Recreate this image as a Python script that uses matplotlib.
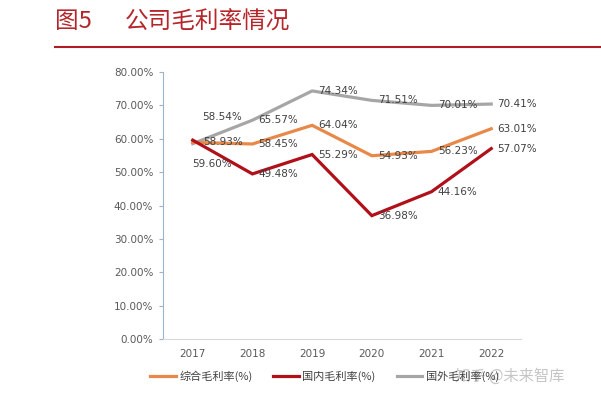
import matplotlib
matplotlib.use('Agg')
from matplotlib import pyplot as plt
from matplotlib.lines import Line2D

plt.rcParams['font.family'] = ['Noto Sans CJK SC', 'DejaVu Sans']

# data
years = ['2017', '2018', '2019', '2020', '2021', '2022']
total = [58.93, 58.45, 64.04, 54.93, 56.23, 63.01]
domestic = [59.60, 49.48, 55.29, 36.98, 44.16, 57.07]
overseas = [58.54, 65.57, 74.34, 71.51, 70.01, 70.41]
names = ['综合毛利率(%)', '国内毛利率(%)', '国外毛利率(%)']

c_total = '#E8894A'
c_dom = '#B01019'
c_over = '#A6A6A6'

fig = plt.figure(figsize=(6.01, 3.98), dpi=100)
ax = fig.add_axes([0.271, 0.148, 0.596, 0.671])

x = list(range(len(years)))
ax.plot(x, overseas, color=c_over, linewidth=2.3, solid_joinstyle='miter')
ax.plot(x, total, color=c_total, linewidth=2.3, solid_joinstyle='miter')
ax.plot(x, domestic, color=c_dom, linewidth=2.3, solid_joinstyle='miter')

ax.set_xlim(-0.5, 5.5)
ax.set_ylim(0, 80)
ax.set_yticks(range(0, 81, 10))
ax.set_yticklabels(['%.2f%%' % v for v in range(0, 81, 10)], family='DejaVu Sans')
ax.set_xticks(x)
ax.set_xticklabels(years, family='DejaVu Sans')

for s in ['top', 'right']:
    ax.spines[s].set_visible(False)
ax.spines['left'].set_color('#9FB3C8')
ax.spines['bottom'].set_color('#D9D9D9')
ax.tick_params(axis='y', length=3, color='#9FB3C8', labelsize=7.5, labelcolor='#595959', pad=4)
ax.tick_params(axis='x', length=0, labelsize=7.5, labelcolor='#595959', pad=7)

# data labels (offsets in points, mostly to the right of the point)
def lab(i, v, dx=4.5, dy=0):
    ax.annotate('%.2f%%' % v, (i, v), xytext=(dx, dy), textcoords='offset points',
                ha='left', va='center', fontsize=7.5, color='#404040',
                family='DejaVu Sans')

for i in range(len(years)):
    if i == 0:
        lab(i, overseas[i], 6.5, 19.5)
        lab(i, total[i], 7.5, 0)
        lab(i, domestic[i], -0.5, -17)
    else:
        lab(i, overseas[i])
        lab(i, total[i])
        lab(i, domestic[i])

# legend
handles = [Line2D([], [], color=c, linewidth=2.3) for c in (c_total, c_dom, c_over)]
fig.legend(handles, names, loc='center', bbox_to_anchor=(0.54, 0.055), ncol=3,
           frameon=False, fontsize=8, handlelength=2.3, handletextpad=0.3,
           columnspacing=1.9, labelcolor='#404040')

# title and rule
fig.text(0.092, 0.945, '图5', fontsize=17, color='#B5252A', ha='left', va='center')
fig.text(0.208, 0.945, '公司毛利率情况', fontsize=17, color='#B5252A',
         ha='left', va='center')
fig.add_artist(Line2D([0.092, 1.0], [0.882, 0.882], color='#B01A22', linewidth=1.5))

# watermark
fig.text(0.757, 0.055, '知乎 @未来智库', fontsize=11, color='#BBBBBB', alpha=0.85,
         ha='left', va='center')

fig.savefig('out.png', dpi=100)
